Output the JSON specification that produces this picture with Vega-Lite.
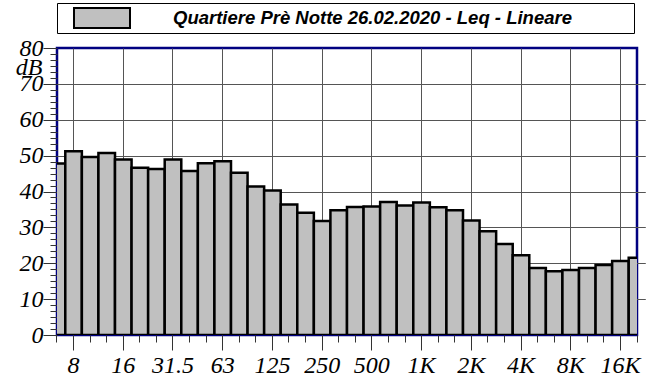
{
  "$schema": "https://vega.github.io/schema/vega-lite/v6.json",
  "width": 580,
  "height": 287,
  "autosize": "none",
  "padding": {"left": 57, "top": 48, "right": 14, "bottom": 46},
  "background": "white",
  "config": {"view": {"stroke": "#000080", "strokeWidth": 2.5}},
  "data": {"values": [
    {"f": "6.3", "db": 47.8}, {"f": "8", "db": 51.2}, {"f": "10", "db": 49.6}, {"f": "12.5", "db": 50.7},
    {"f": "16", "db": 48.9}, {"f": "20", "db": 46.6}, {"f": "25", "db": 46.3}, {"f": "31.5", "db": 48.9},
    {"f": "40", "db": 45.7}, {"f": "50", "db": 47.9}, {"f": "63", "db": 48.4}, {"f": "80", "db": 45.2},
    {"f": "100", "db": 41.4}, {"f": "125", "db": 40.3}, {"f": "160", "db": 36.4}, {"f": "200", "db": 34.1},
    {"f": "250", "db": 31.8}, {"f": "315", "db": 34.8}, {"f": "400", "db": 35.7}, {"f": "500", "db": 35.8},
    {"f": "630", "db": 37.1}, {"f": "800", "db": 36.1}, {"f": "1K", "db": 36.9}, {"f": "1.25K", "db": 35.6},
    {"f": "1.6K", "db": 34.8}, {"f": "2K", "db": 31.9}, {"f": "2.5K", "db": 28.9}, {"f": "3.15K", "db": 25.4},
    {"f": "4K", "db": 22.2}, {"f": "5K", "db": 18.7}, {"f": "6.3K", "db": 17.8}, {"f": "8K", "db": 18.1},
    {"f": "10K", "db": 18.7}, {"f": "12.5K", "db": 19.5}, {"f": "16K", "db": 20.6}, {"f": "20K", "db": 21.5}
  ]},
  "mark": {"type": "bar", "clip": true, "stroke": "black", "strokeWidth": 2.5},
  "encoding": {
    "x": {
      "field": "f", "type": "ordinal", "sort": null,
      "scale": {"range": [-8.286, 588.286], "paddingInner": 0, "paddingOuter": 0},
      "axis": {
        "title": null, "domain": false, "bandPosition": 0.5,
        "labelExpr": "(datum.value === '8' || datum.value === '16' || datum.value === '31.5' || datum.value === '63' || datum.value === '125' || datum.value === '250' || datum.value === '500' || datum.value === '1K' || datum.value === '2K' || datum.value === '4K' || datum.value === '8K' || datum.value === '16K') ? datum.value : ''",
        "tickSize": {"condition": {"test": "datum.value === '8' || datum.value === '16' || datum.value === '31.5' || datum.value === '63' || datum.value === '125' || datum.value === '250' || datum.value === '500' || datum.value === '1K' || datum.value === '2K' || datum.value === '4K' || datum.value === '8K' || datum.value === '16K'", "value": 15}, "value": 7},
        "gridOpacity": {"condition": {"test": "datum.value === '8' || datum.value === '16' || datum.value === '31.5' || datum.value === '63' || datum.value === '125' || datum.value === '250' || datum.value === '500' || datum.value === '1K' || datum.value === '2K' || datum.value === '4K' || datum.value === '8K' || datum.value === '16K'", "value": 1}, "value": 0},
        "grid": true, "gridColor": "#555555", "gridWidth": 1,
        "tickColor": "#333333", "tickWidth": 1,
        "labelAngle": 0, "labelOverlap": false,
        "labelFont": "Liberation Serif", "labelFontStyle": "italic", "labelFontSize": 24, "labelColor": "black",
        "labelPadding": 3
      }
    },
    "y": {
      "field": "db", "type": "quantitative",
      "scale": {"domain": [0, 80], "nice": false, "zero": true},
      "axis": {
        "values": [0, 1.6667, 3.3333, 5, 6.6667, 8.3333, 10, 11.6667, 13.3333, 15, 16.6667, 18.3333, 20, 21.6667, 23.3333, 25, 26.6667, 28.3333, 30, 31.6667, 33.3333, 35, 36.6667, 38.3333, 40, 41.6667, 43.3333, 45, 46.6667, 48.3333, 50, 51.6667, 53.3333, 55, 56.6667, 58.3333, 60, 61.6667, 63.3333, 65, 66.6667, 68.3333, 70, 71.6667, 73.3333, 75, 76.6667, 78.3333, 80],
        "labelExpr": "datum.value % 10 === 0 ? datum.value : ''",
        "tickSize": {"condition": {"test": "datum.value % 10 === 0", "value": 14}, "value": 7},
        "gridOpacity": {"condition": {"test": "datum.value % 10 === 0 && datum.value > 0 && datum.value < 80", "value": 1}, "value": 0},
        "grid": true, "gridColor": "#555555", "gridWidth": 1,
        "tickColor": "#333333", "tickWidth": 1,
        "domain": false, "labelOverlap": false,
        "labelFont": "Liberation Serif", "labelFontStyle": "italic", "labelFontSize": 24, "labelColor": "black",
        "labelPadding": 0,
        "title": "dB", "titleAngle": 0, "titleX": -15, "titleY": 26, "titleAlign": "right", "titleBaseline": "alphabetic",
        "titleFont": "Liberation Serif", "titleFontStyle": "italic", "titleFontWeight": "normal", "titleFontSize": 24, "titleColor": "black"
      }
    },
    "fill": {
      "datum": "Quartiere Prè Notte 26.02.2020 - Leq - Lineare",
      "type": "nominal",
      "scale": {"range": ["#c0c0c0"]},
      "legend": {
        "orient": "none", "legendX": 0, "legendY": -45,
        "title": " ", "titleOrient": "right", "titlePadding": 58,
        "strokeColor": "black", "fillColor": "white", "padding": 4,
        "symbolType": "M-1,-0.357H1V0.357H-1Z", "symbolSize": 3136,
        "symbolStrokeColor": "black", "symbolStrokeWidth": 2, "symbolOffset": 12,
        "clipHeight": 22,
        "labelFont": "Liberation Sans", "labelFontSize": 18.5, "labelFontWeight": "bold", "labelFontStyle": "italic",
        "labelColor": "black", "labelOffset": 42, "labelLimit": 0
      }
    }
  }
}
